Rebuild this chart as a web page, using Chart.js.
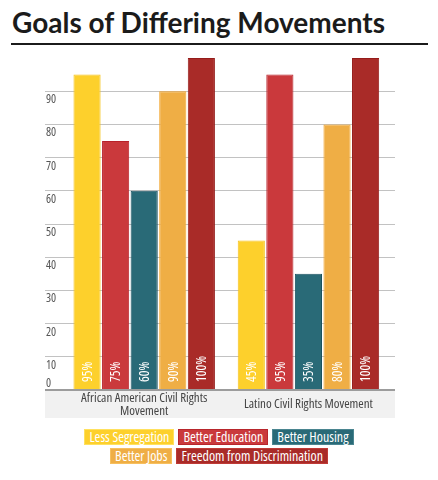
<!DOCTYPE html>
<html>
<head>
<meta charset="utf-8">
<script src="https://cdn.jsdelivr.net/npm/chart.js@4.4.0/dist/chart.umd.min.js"></script>
<style>
  body { margin: 0; background: #fff; width: 438px; height: 480px; overflow: hidden; position: relative; }
  #title { position: absolute; left: 12px; top: 5px; font: bold 28px/34px Lato, sans-serif; color: #1b1b1b; white-space: nowrap; }
  #rule { position: absolute; left: 11px; top: 43px; width: 417px; height: 2px; background: #1b1b1b; }
  #chartBox { position: absolute; left: 0; top: 46px; width: 438px; height: 376px; }
  #legend { position: absolute; left: 64px; top: 429px; width: 310px; display: flex; flex-wrap: wrap; justify-content: center; gap: 3px 4px; }
  #legend span { display: inline-block; height: 14px; line-height: 14px; padding: 0 4px; border: 1px solid; color: #fff; font-family: 'Open Sans', sans-serif; font-stretch: condensed; font-size: 14px; white-space: nowrap; }
</style>
</head>
<body>
<div id="title">Goals of Differing Movements</div>
<div id="rule"></div>
<div id="chartBox"><canvas id="goalsChart" width="438" height="376"></canvas></div>
<div id="legend"></div>

<script>
// chart data
const categories = [['African American Civil Rights', 'Movement'], 'Latino Civil Rights Movement'];
const seriesNames = ['Less Segregation', 'Better Education', 'Better Housing', 'Better Jobs', 'Freedom from Discrimination'];
const lessSegregation = [95, 45];
const betterEducation = [75, 95];
const betterHousing = [60, 35];
const betterJobs = [90, 80];
const freedomFromDiscrimination = [100, 100];
const yTicks = [0, 10, 20, 30, 40, 50, 60, 70, 80, 90];

const seriesValues = [lessSegregation, betterEducation, betterHousing, betterJobs, freedomFromDiscrimination];
const fillColors = ['#FDD02C', '#CA393C', '#296A77', '#EFAE45', '#A92B28'];
const edgeColors = ['#F5C219', '#B8222A', '#1B5360', '#F2A227', '#951C1A'];
const legendEdges = ['#FFE15E', '#B8262C', '#4A8590', '#F7BF5E', '#BF3A36'];

// "condensed" goes in the weight slot so chart.js keeps it in the font string
const narrowFamily = "'Open Sans', sans-serif";

const datasets = seriesNames.map((name, i) => ({
	label: name,
	data: seriesValues[i].map((v, j) => ({ x: j, y: v })),
	backgroundColor: fillColors[i],
	borderColor: edgeColors[i],
	borderWidth: 1,
	categoryPercentage: 0.87,
	barPercentage: 0.95
}));

// percent text inside bars + the lone "0" tick label
const barTextPlugin = {
	id: 'barText',
	afterDatasetsDraw(chart) {
		const ctx = chart.ctx;
		ctx.save();
		ctx.fillStyle = '#fff';
		ctx.font = 'condensed 13.5px ' + narrowFamily;
		ctx.textAlign = 'left';
		ctx.textBaseline = 'middle';
		chart.data.datasets.forEach((ds, i) => {
			chart.getDatasetMeta(i).data.forEach((bar, j) => {
				ctx.save();
				ctx.translate(bar.x, bar.base - 7);
				ctx.rotate(-Math.PI / 2);
				ctx.fillText(ds.data[j].y + '%', 0, 1);
				ctx.restore();
			});
		});
		ctx.restore();
	},
	afterDraw(chart) {
		const y = chart.scales.y;
		const ctx = chart.ctx;
		ctx.save();
		ctx.fillStyle = '#555';
		ctx.font = 'condensed 12px ' + narrowFamily;
		ctx.textAlign = 'left';
		ctx.textBaseline = 'middle';
		ctx.fillText('0', chart.chartArea.left + 1, y.getPixelForValue(0) - 6.5);
		ctx.restore();
	}
};

// html legend, coloured boxes with the text inside
const htmlLegendPlugin = {
	id: 'htmlLegend',
	afterUpdate(chart) {
		const box = document.getElementById('legend');
		box.innerHTML = '';
		chart.options.plugins.legend.labels.generateLabels(chart).forEach((item, i) => {
			const span = document.createElement('span');
			span.textContent = item.text;
			span.style.background = item.fillStyle;
			span.style.borderColor = legendEdges[i];
			box.appendChild(span);
		});
	}
};

const config = {
	type: 'bar',
	data: { datasets: datasets },
	options: {
		responsive: false,
		animation: false,
		layout: { padding: { left: 43, right: 43, top: 12, bottom: 4 } },
		scales: {
			x: {
				type: 'linear',
				offset: false,
				min: -0.604,
				max: 1.527,
				backgroundColor: '#f1f1f1',
				grid: { display: false, drawTicks: false },
				border: { display: false },
				afterBuildTicks: (scale) => { scale.ticks = categories.map((c, i) => ({ value: i })); },
				afterFit: (scale) => { scale.height = 28; },
				ticks: {
					autoSkip: false,
					maxRotation: 0,
					crossAlign: 'center',
					padding: 8,
					color: '#444',
					font: { family: narrowFamily, weight: 'condensed', size: 13, lineHeight: 1.0 },
					callback: (v) => categories[v]
				}
			},
			y: {
				min: 0,
				max: 100,
				border: { display: false },
				afterBuildTicks: (scale) => { scale.ticks = yTicks.map(v => ({ value: v })); },
				grid: {
					drawTicks: false,
					color: (c) => c.tick && c.tick.value === 0 ? '#9c9c9c' : '#c2c2c2',
					lineWidth: (c) => c.tick && c.tick.value === 0 ? 2 : 1
				},
				ticks: {
					mirror: true,
					padding: 1,
					labelOffset: 8.5,
					color: '#555',
					font: { family: narrowFamily, weight: 'condensed', size: 12 },
					callback: (v) => v === 0 ? '' : v
				}
			}
		},
		plugins: {
			legend: { display: false },
			tooltip: { enabled: false }
		}
	},
	plugins: [barTextPlugin, htmlLegendPlugin]
};

new Chart(document.getElementById('goalsChart').getContext('2d'), config);
</script>
</body>
</html>
